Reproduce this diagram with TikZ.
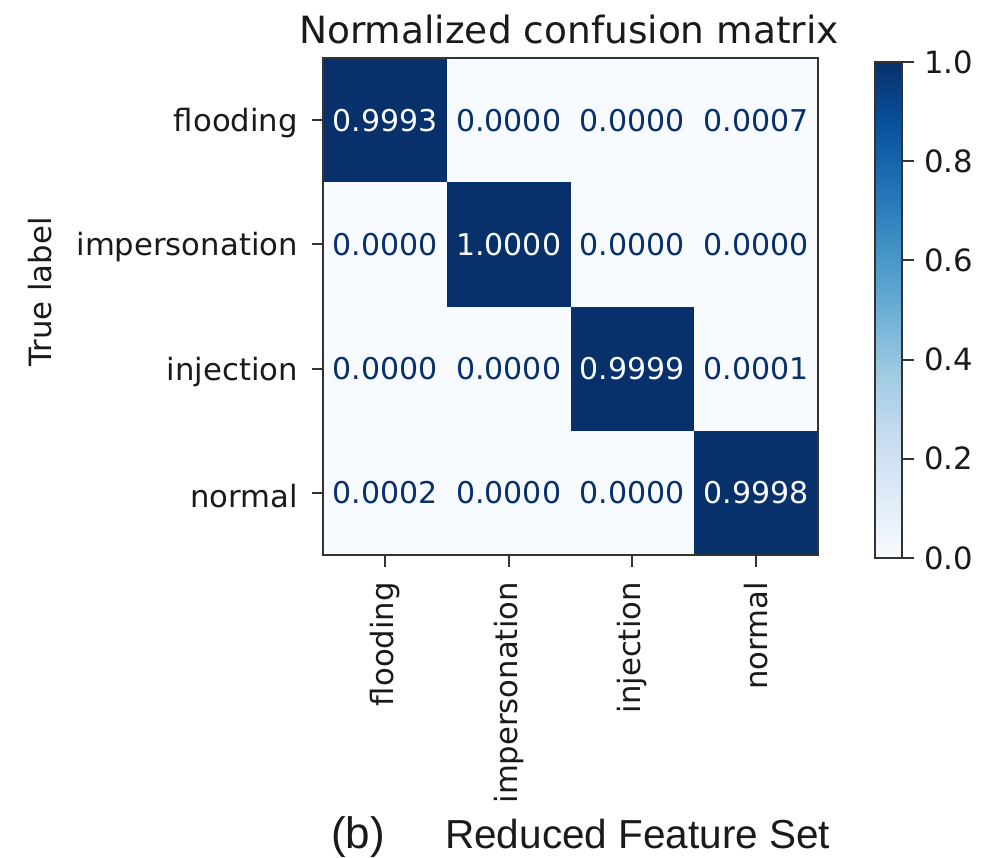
\documentclass[tikz,border=0pt]{standalone}
\usepackage{fontspec}
\setmainfont{DejaVu Sans}
\newfontfamily\capfont{Liberation Sans}
\definecolor{bz}{HTML}{F7FBFF}
\definecolor{ba}{HTML}{DEEBF7}
\definecolor{bb}{HTML}{C6DBEF}
\definecolor{bc}{HTML}{9ECAE1}
\definecolor{bd}{HTML}{6BAED6}
\definecolor{be}{HTML}{4292C6}
\definecolor{bf}{HTML}{2171B5}
\definecolor{bg}{HTML}{08519C}
\definecolor{bh}{HTML}{08306B}
\definecolor{ink}{HTML}{1A1A1A}
\definecolor{spine}{HTML}{333333}
\pgfdeclareverticalshading{blues}{100bp}{color(0bp)=(bz); color(25bp)=(bz); color(31.25bp)=(ba); color(37.5bp)=(bb); color(43.75bp)=(bc); color(50bp)=(bd); color(56.25bp)=(be); color(62.5bp)=(bf); color(68.75bp)=(bg); color(75bp)=(bh); color(100bp)=(bh)}
\tikzset{
  cellhi/.style={text=bz, font=\fontsize{30}{30}\selectfont, inner sep=0pt},
  celllo/.style={text=bh, font=\fontsize{30}{30}\selectfont, inner sep=0pt},
  ticklab/.style={text=ink, font=\fontsize{30.7}{30.7}\selectfont, inner sep=0pt},
  tickmark/.style={draw=spine, line width=2pt},
}
\begin{document}
\begin{tikzpicture}[x=1pt,y=-1pt]
\useasboundingbox[fill=white] (0,0) rectangle (987,857);
% matrix cells
\fill[bz] (323,58) rectangle (818,555);
\fill[bh] (323,58) rectangle (446.75,182.25);
\fill[bh] (446.75,182.25) rectangle (570.5,306.5);
\fill[bh] (570.5,306.5) rectangle (694.25,430.75);
\fill[bh] (694.25,430.75) rectangle (818,555);
\draw[spine, line width=2.5pt] (323,58) rectangle (818,555);
% cell values
\foreach \r/\vals in {0/{0.9993,0.0000,0.0000,0.0007},1/{0.0000,1.0000,0.0000,0.0000},2/{0.0000,0.0000,0.9999,0.0001},3/{0.0002,0.0000,0.0000,0.9998}}{
  \foreach \v [count=\c from 0] in \vals {
    \pgfmathsetmacro{\cx}{323+123.75*(\c+0.5)}
    \pgfmathsetmacro{\cy}{58+124.25*(\r+0.5)}
    \ifnum\c=\r
      \node[cellhi] (v\r\c) at (\cx,\cy) {\v};
    \else
      \node[celllo] (v\r\c) at (\cx,\cy) {\v};
    \fi
  }
}
% row/column ticks and labels
\foreach \lab [count=\i from 0] in {flooding,impersonation,injection,normal}{
  \pgfmathsetmacro{\cy}{58+124.25*(\i+0.5)}
  \pgfmathsetmacro{\ly}{\cy+3}
  \pgfmathsetmacro{\cx}{323+123.75*(\i+0.5)}
  \draw[tickmark] (312,\cy) -- (323,\cy);
  \node[ticklab, anchor=east] (rl\i) at (298,\ly) {\lab};
  \draw[tickmark] (\cx,555) -- (\cx,567);
  \node[ticklab, anchor=east, rotate=90] (cl\i) at (\cx,582) {\lab};
}
% axis label
\node[ticklab, rotate=90] (ylab) at (40,292) {True label};
% title
\node[ticklab, font=\fontsize{37.5}{37.5}\selectfont] (title) at (569,30) {Normalized confusion matrix};
% colorbar
\shade[shading=blues] (875,62) rectangle (902,558);
\draw[spine, line width=2.5pt] (875,62) rectangle (902,558);
\foreach \v/\y in {1.0/62,0.8/161.2,0.6/260.4,0.4/359.6,0.2/458.8,0.0/558}{
  \draw[tickmark] (902,\y) -- (914,\y);
  \node[ticklab, anchor=west] at (924,\y) {\v};
}
% caption
\node[text=ink, font=\capfont\fontsize{44}{44}\selectfont, anchor=base west, inner sep=0pt] (capb) at (331,848) {(b)};
\node[text=ink, font=\capfont\fontsize{40.5}{40.5}\selectfont, anchor=base west, inner sep=0pt] (capt) at (445,848) {Reduced Feature Set};
\end{tikzpicture}
\end{document}
